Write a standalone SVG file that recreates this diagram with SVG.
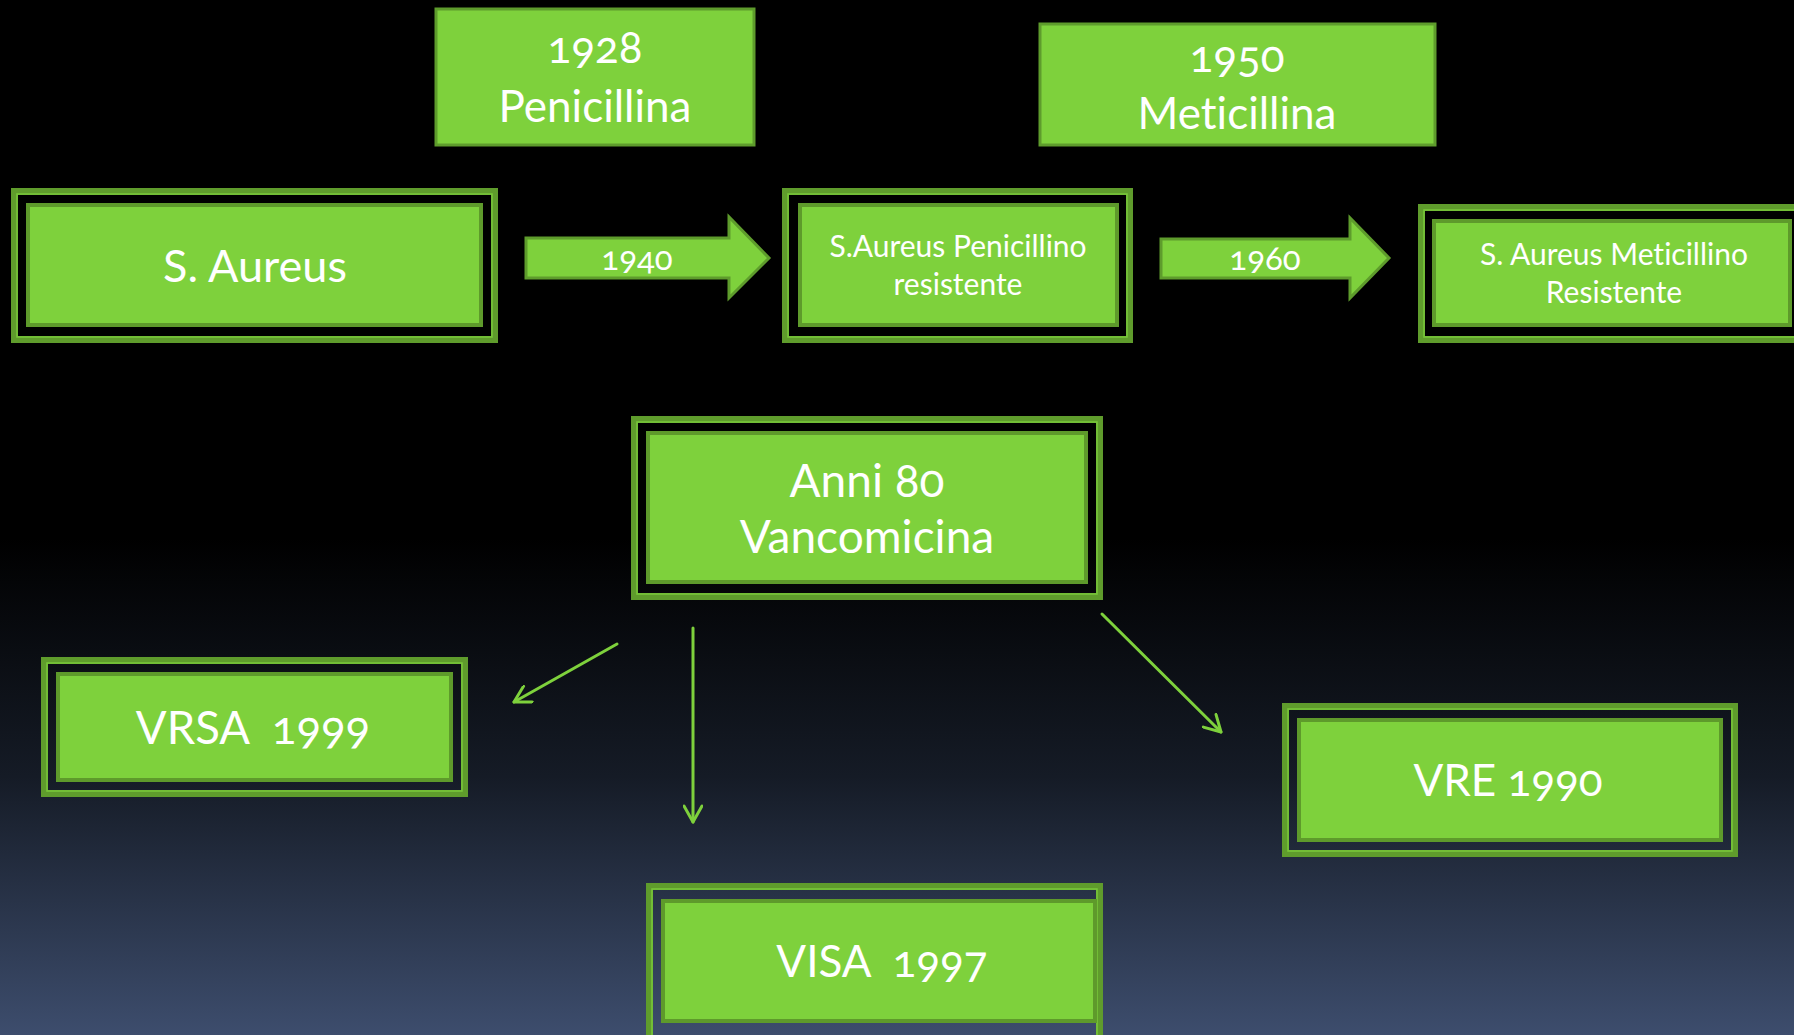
<svg xmlns="http://www.w3.org/2000/svg" width="1794" height="1035" viewBox="0 0 1794 1035">
<defs>
<linearGradient id="bg" x1="0" y1="0" x2="0" y2="1">
<stop offset="0" stop-color="#000000"/>
<stop offset="0.52" stop-color="#000000"/>
<stop offset="0.75" stop-color="#151b26"/>
<stop offset="1" stop-color="#3d4d6d"/>
</linearGradient>
<marker id="vhead" viewBox="0 0 20 20" refX="18" refY="10" markerWidth="20" markerHeight="20" markerUnits="userSpaceOnUse" orient="auto">
<path d="M2,1 L18,10 L2,19" fill="none" stroke="#7ed13c" stroke-width="3" stroke-linecap="round" stroke-linejoin="round"/>
</marker>
<style>
.ob{fill:none;stroke:#5f9c2c;stroke-width:7}
.ol{fill:none;stroke:#7ac83a;stroke-width:1.5}
.in{fill:#7ed13c;stroke:#5e9a2b;stroke-width:4}
.sb{fill:#7ed13c;stroke:#5e9c2c;stroke-width:3}
.t{fill:#ffffff;font-family:Lato,"Open Sans","Liberation Sans",sans-serif;font-weight:400;text-anchor:middle;font-variant-numeric:oldstyle-nums;font-variant-ligatures:none;font-feature-settings:"onum","liga" 0,"dlig" 0;white-space:pre}
.ln{fill:none;stroke:#7ed13c;stroke-width:3;stroke-linecap:round}
</style>
</defs>
<rect x="0" y="0" width="1794" height="1035" fill="url(#bg)"/>

<g id="node-penicillina">
<rect class="sb" x="436" y="9" width="318" height="136"/>
<text class="t" x="595" y="63" font-size="44">1928</text>
<text class="t" x="595" y="122" font-size="44">Penicillina</text>
</g>

<g id="node-meticillina">
<rect class="sb" x="1040" y="24" width="395" height="121"/>
<text class="t" x="1237" y="72" font-size="44">1950</text>
<text class="t" x="1237" y="129" font-size="44">Meticillina</text>
</g>

<g id="node-saureus">
<rect class="ob" x="14.5" y="191.5" width="480" height="148"/>
<rect class="ol" x="17" y="194" width="475" height="143"/>
<rect class="in" x="28" y="205" width="453" height="120"/>
<text class="t" x="255" y="282" font-size="45">S. Aureus</text>
</g>

<g id="node-penres">
<rect class="ob" x="785.5" y="191.5" width="344" height="148"/>
<rect class="ol" x="788" y="194" width="339" height="143"/>
<rect class="in" x="800" y="205" width="317" height="120"/>
<text class="t" x="958" y="257" font-size="30">S.Aureus Penicillino</text>
<text class="t" x="958" y="295" font-size="30">resistente</text>
</g>

<g id="node-metres">
<rect class="ob" x="1421.5" y="207.5" width="380" height="132"/>
<rect class="ol" x="1424" y="210" width="375" height="127"/>
<rect class="in" x="1434" y="221" width="356" height="104"/>
<text class="t" x="1614" y="265" font-size="30">S. Aureus Meticillino</text>
<text class="t" x="1614" y="303" font-size="30">Resistente</text>
</g>

<g id="node-vanco">
<rect class="ob" x="634.5" y="419.5" width="465" height="177"/>
<rect class="ol" x="637" y="422" width="460" height="172"/>
<rect class="in" x="648" y="433" width="438" height="149"/>
<text class="t" x="867" y="497" font-size="46">Anni 80</text>
<text class="t" x="867" y="553" font-size="46">Vancomicina</text>
</g>

<g id="node-vrsa">
<rect class="ob" x="44.5" y="660.5" width="420" height="133"/>
<rect class="ol" x="47" y="663" width="415" height="128"/>
<rect class="in" x="58" y="674" width="393" height="106"/>
<text class="t" x="253" y="744" font-size="45.5">VRSA  1999</text>
</g>

<g id="node-visa">
<rect class="ob" x="649.5" y="886.5" width="450" height="160"/>
<rect class="ol" x="652" y="889" width="445" height="155"/>
<rect class="in" x="663" y="901" width="432" height="120"/>
<text class="t" x="882" y="977" font-size="44">VISA  1997</text>
</g>

<g id="node-vre">
<rect class="ob" x="1285.5" y="706.5" width="449" height="147"/>
<rect class="ol" x="1288" y="709" width="444" height="142"/>
<rect class="in" x="1299" y="720" width="422" height="120"/>
<text class="t" x="1508" y="796" font-size="44">VRE 1990</text>
</g>

<g id="connectors">
<polygon class="sb" points="526,238 729,238 729,217 769,258 729,298 729,278 526,278"/>
<text class="t" x="637" y="270" font-size="33">1940</text>
<polygon class="sb" points="1161,239 1350,239 1350,218 1389,258 1350,298 1350,278 1161,278"/>
<text class="t" x="1265" y="270" font-size="33">1960</text>
<line class="ln" x1="617" y1="644" x2="514" y2="702" marker-end="url(#vhead)"/>
<line class="ln" x1="693" y1="628" x2="693" y2="822" marker-end="url(#vhead)"/>
<line class="ln" x1="1102" y1="614" x2="1221" y2="732" marker-end="url(#vhead)"/>
</g>
</svg>
